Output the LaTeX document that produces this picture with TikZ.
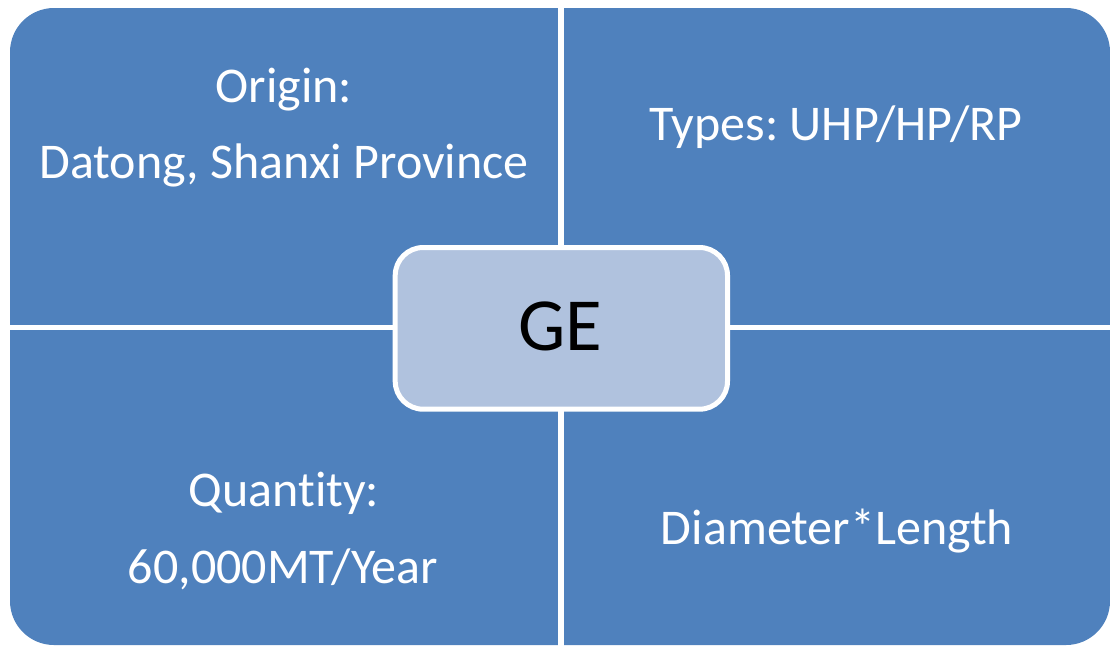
\documentclass[tikz,border=0pt]{standalone}
\usepackage{fontspec}
\setmainfont{Carlito}[Ligatures={NoCommon}]
\frenchspacing
\definecolor{quadblue}{HTML}{4F81BD}
\definecolor{centerblue}{HTML}{B0C2DE}
\tikzset{
  quadtext/.style={anchor=base, inner sep=0pt, text=white, font=\fontsize{50}{60}\selectfont},
  centertext/.style={anchor=base, inner sep=0pt, text=black, font=\fontsize{75}{90}\selectfont},
  gapline/.style={draw=white},
  centerbox/.style={fill=centerblue, draw=white, line width=5pt, rounded corners=28pt}
}
\begin{document}
\begin{tikzpicture}[x=1pt,y=-1pt]
\useasboundingbox (0,0) rectangle (1110,646);
% outer blue area
\fill[quadblue, rounded corners=44pt] (10,8) rectangle (1110,645);
% white gaps
\coordinate (vt) at (560.7,0);
\coordinate (vb) at (560.7,646);
\coordinate (hl) at (0,327.5);
\coordinate (hr) at (1110,327.5);
\draw[gapline, line width=6pt] (vt) -- (vb);
\draw[gapline, line width=5pt] (hl) -- (hr);
% center box
\draw[centerbox] (395.2,247.5) rectangle (727.5,409.2);
\node[centertext] (ge) at (560,350) {GE};
% quadrant texts
\node[quadtext] (origin) at (284,102.5) {Origin:};
\node[quadtext] (datong) at (284,178) {Datong, Shanxi Province};
\node[quadtext] (types) at (836,140.5) {Types: UHP/HP/RP};
\node[quadtext] (quantity) at (284,506.5) {Quantity:};
\node[quadtext] (year) at (283,583) {60,000MT/Year};
\node[quadtext] (diam) at (837,544.5) {Diameter*Length};
\end{tikzpicture}
\end{document}
